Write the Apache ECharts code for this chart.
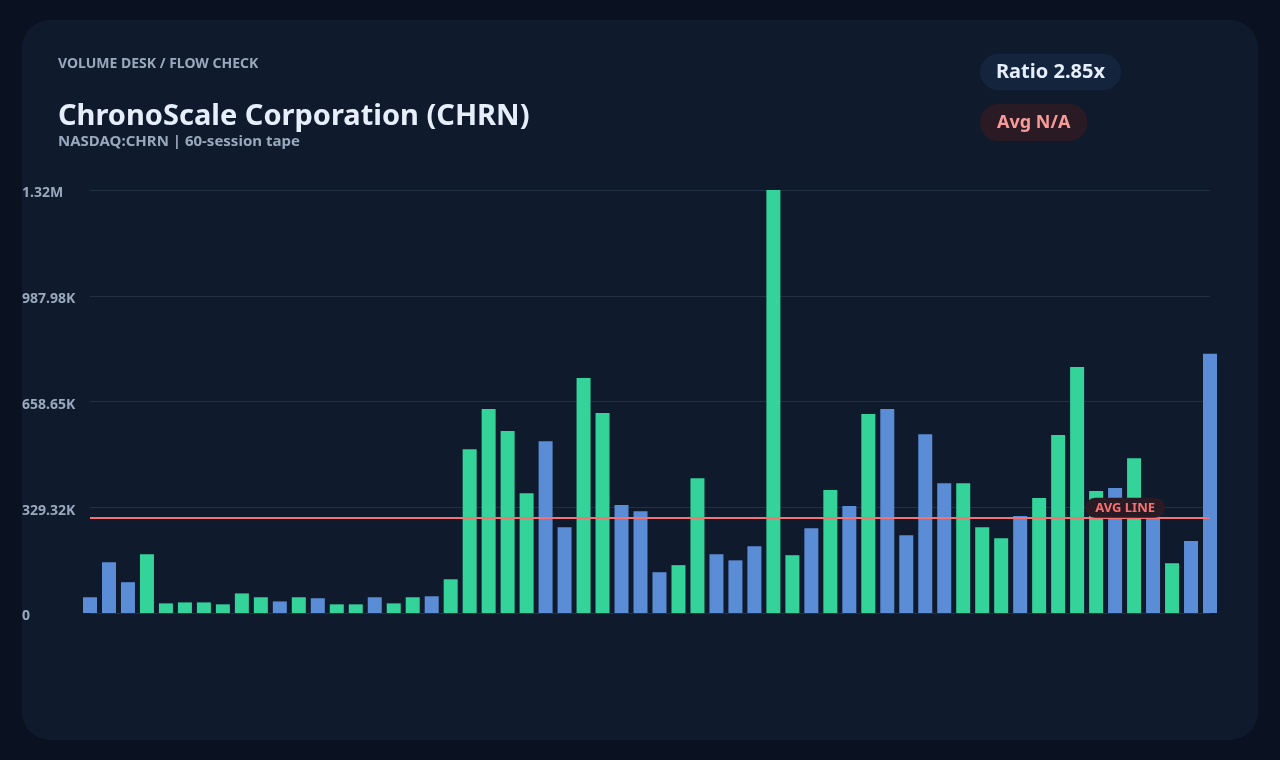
<!DOCTYPE html>
<html>

<head>
    <meta charset="utf-8">
    <title>ChronoScale volume</title>
    <script src="https://cdn.jsdelivr.net/npm/echarts@6/dist/echarts.min.js"></script>
    <style>
        html, body { margin: 0; padding: 0; background: #0a1120; }
        #card {
            position: absolute; left: 22px; top: 20px; width: 1236px; height: 720px;
            border-radius: 28px; background: #0f1a2d;
        }
        #main { position: absolute; top: 0; left: 0; width: 1280px; height: 760px; }
    </style>
</head>

<body>
<div id="card"></div>
<div id="main"></div>
<script type="text/javascript">

    // sessions (labels hidden on the chart)
    var sessions = [
        1, 2, 3, 4, 5, 6, 7, 8, 9, 10, 11, 12, 13, 14, 15, 16, 17, 18, 19, 20,
        21, 22, 23, 24, 25, 26, 27, 28, 29, 30, 31, 32, 33, 34, 35, 36, 37, 38, 39, 40,
        41, 42, 43, 44, 45, 46, 47, 48, 49, 50, 51, 52, 53, 54, 55, 56, 57, 58, 59, 60
    ];
    // volume per session
    var volumes = [
        49000, 158000, 96000, 183000, 30000, 33000, 33000, 27000, 61000, 49000,
        36000, 49000, 46000, 27000, 27000, 49000, 30000, 49000, 52000, 105000,
        510000, 635000, 567000, 373000, 535000, 267000, 732000, 623000, 336000, 317000,
        127000, 149000, 420000, 183000, 164000, 208000, 1317300, 180000, 264000, 383000,
        333000, 620000, 635000, 242000, 557000, 404000, 404000, 267000, 233000, 302000,
        358000, 554000, 766000, 380000, 389000, 482000, 325000, 155000, 224000, 807000
    ];
    // 1 = up session (green), 0 = down session (blue)
    var upDays = [
        0, 0, 0, 1, 1, 1, 1, 1, 1, 1, 0, 1, 0, 1, 1, 0, 1, 1, 0, 1,
        1, 1, 1, 1, 0, 0, 1, 1, 0, 0, 0, 1, 1, 0, 0, 0, 1, 1, 0, 1,
        0, 1, 0, 0, 0, 0, 1, 1, 1, 0, 1, 1, 1, 1, 0, 1, 0, 1, 0, 0
    ];
    var avgLine = 296300;
    var axisMax = 1317300;

    var UP = '#34d399', DOWN = '#5b8dd6';
    var FONT = '"Noto Sans", sans-serif';

    function fmtVol(v) {
        if (v >= 1e6) return (v / 1e6).toFixed(2) + 'M';
        if (v >= 1e3) return (v / 1e3).toFixed(2) + 'K';
        return String(v);
    }

    var myChart = echarts.init(document.getElementById('main'));

    myChart.setOption({
        backgroundColor: 'transparent',
        textStyle: {fontFamily: FONT},
        animation: false,
        graphic: [
            {
                type: 'text', left: 58, top: 57,
                style: {text: 'VOLUME DESK / FLOW CHECK', fill: '#9aa8bd', font: 'bold 14px ' + FONT}
            },
            {
                type: 'text', left: 58, top: 102,
                style: {text: 'ChronoScale Corporation (CHRN)', fill: '#e6eefb', font: 'bold 29px ' + FONT}
            },
            {
                type: 'text', left: 58, top: 134,
                style: {text: 'NASDAQ:CHRN | 60-session tape', fill: '#9aa8bd', font: 'bold 15px ' + FONT}
            },
            {
                type: 'text', left: 980, top: 54,
                style: {
                    text: 'Ratio 2.85x', fill: '#e6eefb', font: 'bold 20px ' + FONT,
                    backgroundColor: '#14243d', padding: [8, 16, 8, 16], borderRadius: 18
                }
            },
            {
                type: 'text', left: 980, top: 104,
                style: {
                    text: 'Avg N/A', fill: '#f89a9a', font: 'bold 18px ' + FONT,
                    backgroundColor: '#2a1a23', padding: [10, 17, 9, 17], borderRadius: 18
                }
            }
        ],
        grid: {left: 90, right: 70, top: 190, bottom: 147},
        xAxis: {
            type: 'category',
            data: sessions,
            boundaryGap: false,
            axisLine: {show: false},
            axisTick: {show: false},
            axisLabel: {show: false}
        },
        yAxis: {
            type: 'value',
            min: 0,
            max: axisMax,
            interval: axisMax / 4,
            axisLine: {show: false},
            axisTick: {show: false},
            splitLine: {lineStyle: {color: '#223046', width: 1}},
            axisLabel: {
                align: 'left',
                margin: 68,
                formatter: function (v) {
                    return '{v|' + fmtVol(v) + '}';
                },
                rich: {
                    v: {
                        color: '#9aa8bd',
                        fontWeight: 'bold',
                        fontSize: 14,
                        fontFamily: FONT,
                        padding: [7, 0, 0, 0]
                    }
                }
            }
        },
        series: [{
            type: 'bar',
            barWidth: 14,
            data: volumes.map(function (v, i) {
                return {value: v, itemStyle: {color: upDays[i] ? UP : DOWN}};
            }),
            markLine: {
                silent: true,
                symbol: 'none',
                lineStyle: {color: '#f87171', width: 2, type: 'solid'},
                data: [{yAxis: avgLine}],
                label: {
                    show: true,
                    formatter: 'AVG LINE',
                    position: 'insideEndTop',
                    distance: [45, 0],
                    color: '#f87171',
                    fontWeight: 'bold',
                    fontSize: 13,
                    fontFamily: FONT,
                    backgroundColor: '#2a1a23',
                    padding: [4, 10, 3, 10],
                    borderRadius: 10
                }
            }
        }]
    });
</script>
</body>

</html>
